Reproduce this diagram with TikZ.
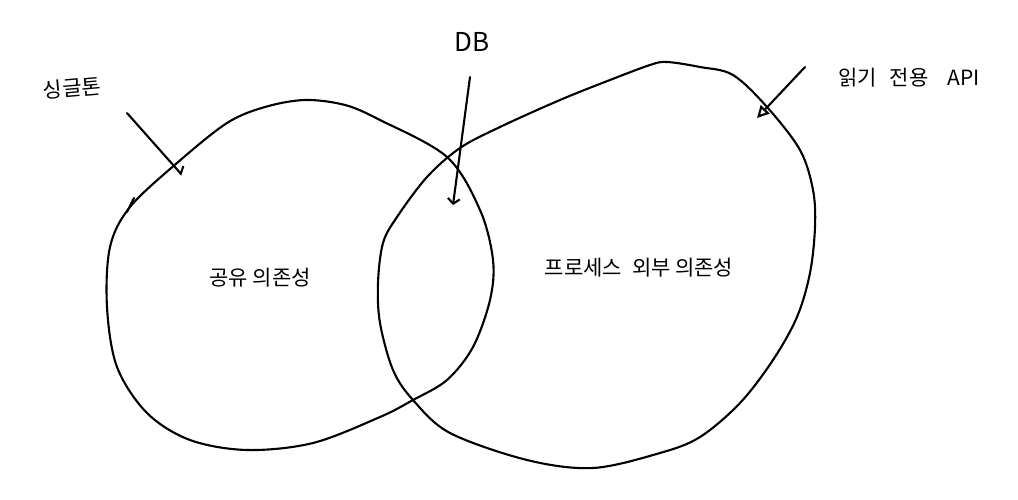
\documentclass[tikz,border=0pt]{standalone}
\usepackage{fontspec}
\setmainfont{Noto Sans CJK KR}
\usetikzlibrary{arrows.meta}
\tikzset{>=stealth}
\tikzset{hand/.style={line width=2.1pt, line join=round, line cap=round},
	lbl/.style={inner sep=0pt, font=\fontsize{21}{23}\selectfont}}

\begin{document}
\begin{tikzpicture}[x=1pt,y=-1pt]
		\useasboundingbox (0,0) rectangle (1018,500);
		% shared dependency blob
		\draw[hand] plot[smooth cycle, tension=0.55] coordinates {(130,207) (177,163) (227,123) (265,107) (305,100) (345,105) (380,120) (447,157) (480,210) (493,260) (490,300) (473,347) (447,380) (413,400) (380,417) (313,443) (247,450) (190,440) (147,413) (117,367) (107,307) (110,247)};
		\draw[hand] (127,212)--(134,198);
		% out-of-process dependency blob
		\draw[hand] plot[smooth cycle, tension=0.55] coordinates {(650,65) (667,62) (700,67) (733,75) (767,107) (800,150) (813,190) (815,227) (810,273) (797,317) (773,360) (740,403) (700,437) (660,453) (593,468) (527,460) (450,433) (413,400) (393,370) (380,323) (378,283) (383,243) (397,217) (427,177) (460,148) (500,127) (560,100) (610,80)};
		% labels
		\node[lbl, rotate=5] (singleton) at (72,88) {싱글톤};
		\node[lbl, font=\fontsize{26}{28}\selectfont] (db) at (472,42) {DB};
		\node[lbl] (readapi) at (909,78) {읽기\hspace{0.6em}전용\hspace{0.9em}API};
		\node[lbl] (shared) at (260,278) {공유 의존성};
		\node[lbl] (outproc) at (639,268) {프로세스\hspace{0.5em}외부\hspace{0.2em}의존성};
		% arrows
		\coordinate (singtail) at (127,113);
		\coordinate (singhead) at (182,175);
		\coordinate (dbtail) at (470,77);
		\coordinate (dbhead) at (453,205);
		\coordinate (apitail) at (805,67);
		\coordinate (apihead) at (757,118);
		\draw[hand, -{Straight Barb[harpoon, length=4pt, width=14pt]}] (singtail)--(singhead);
		\draw[hand, -{Straight Barb[length=5pt, width=12pt]}] (dbtail)--(dbhead);
		\draw[hand, -{Triangle[open, length=12pt, width=12pt]}] (apitail)--(apihead);
	\end{tikzpicture}
\end{document}
